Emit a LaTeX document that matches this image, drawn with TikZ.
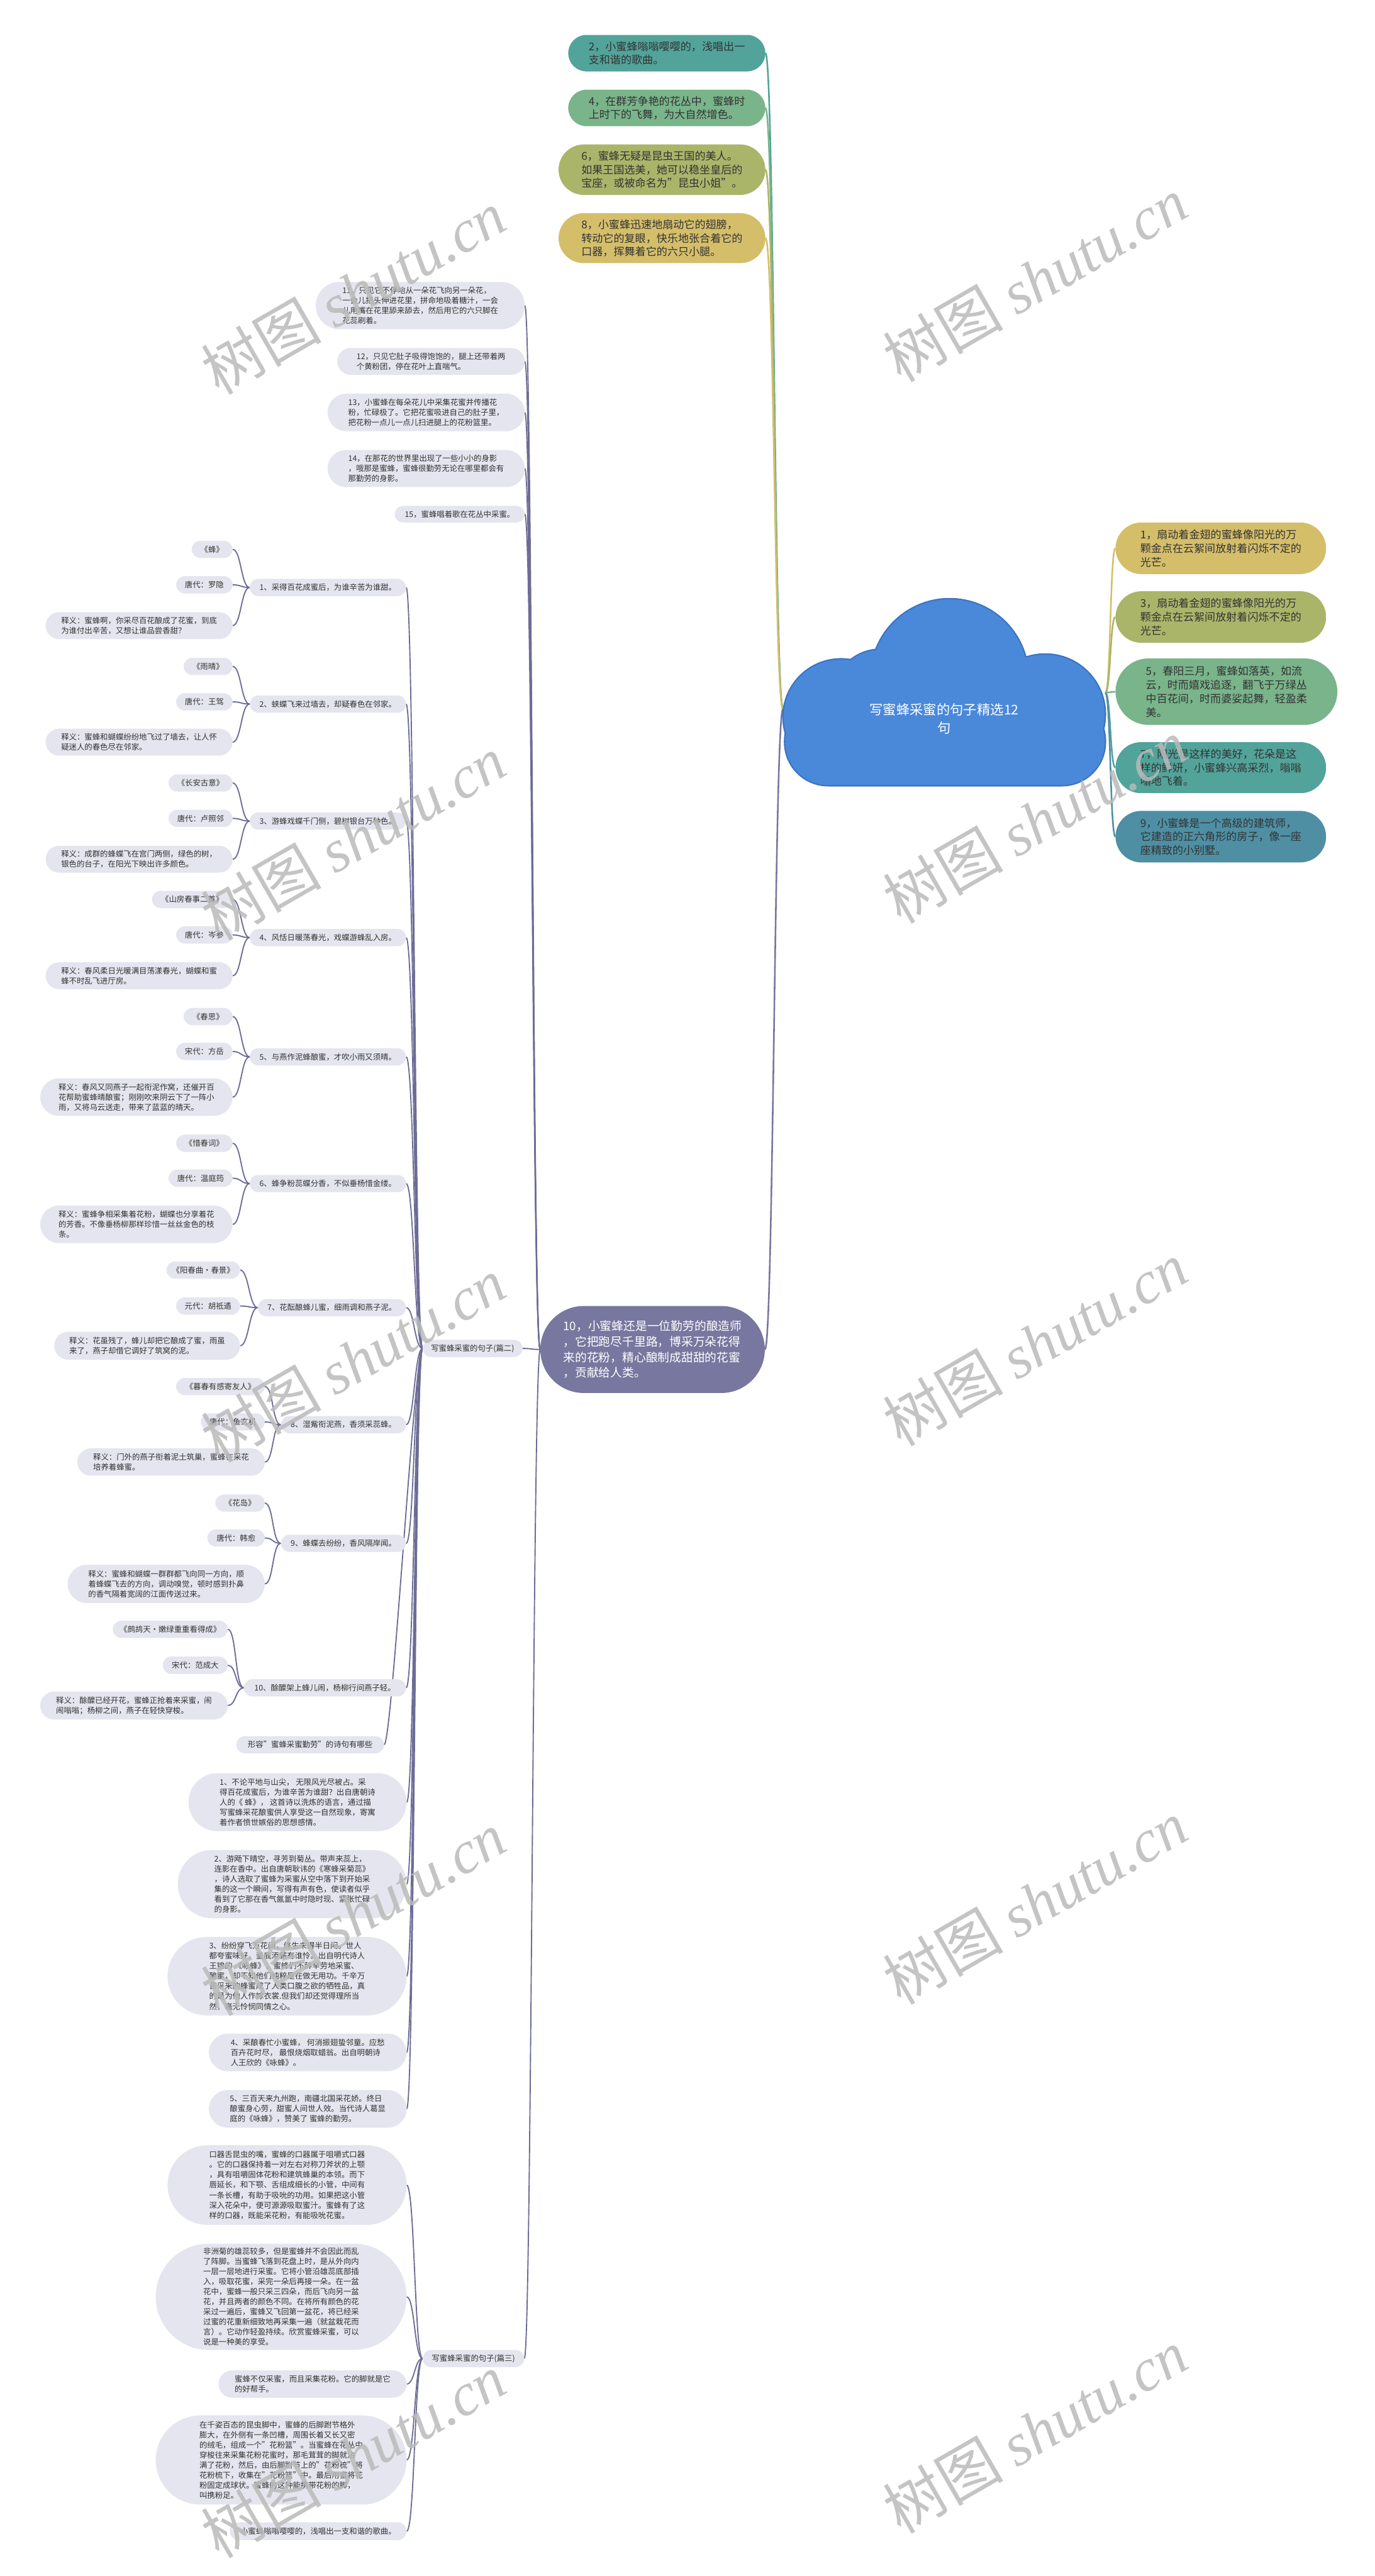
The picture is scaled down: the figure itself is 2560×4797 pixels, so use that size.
\documentclass[tikz,border=0pt]{standalone}
\usepackage{fontspec}
\setmainfont{Noto Sans CJK SC}
\newfontfamily\wmlatin{Liberation Serif}
\definecolor{cteal}{HTML}{52A39A}
\definecolor{cgreen}{HTML}{79B48A}
\definecolor{colive}{HTML}{AAB56A}
\definecolor{cyellow}{HTML}{D5BE6A}
\definecolor{cblue}{HTML}{4E8FA4}
\definecolor{cpurple}{HTML}{77779F}
\definecolor{ccloud}{HTML}{4A88DA}
\definecolor{ccloudline}{HTML}{3A72C2}
\definecolor{gbg}{HTML}{E4E5EE}
\definecolor{txt}{HTML}{333333}
\definecolor{lnk}{HTML}{6C6C96}
\pgfdeclarelayer{bgw}\pgfdeclarelayer{bg}\pgfdeclarelayer{fg}
\pgfsetlayers{bgw,bg,main,fg}
\tikzset{
 gnode/.style={fill=gbg, text=txt, font=\fontsize{14.5}{18.8}\selectfont, align=left, inner sep=0pt},
 cnode/.style={text=txt, font=\fontsize{20}{25.5}\selectfont, align=left, inner sep=0pt},
 pnode/.style={fill=cpurple, text=white, font=\fontsize{22}{29}\selectfont, align=left, inner sep=0pt},
 rootline/.style={line width=3pt},
 sline/.style={draw=lnk, line width=2.2pt},
 wmark/.style={text=black!27, text opacity=0.85, rotate=30, font=\fontsize{112}{112}\selectfont, inner sep=0pt}
}
\newcommand{\mmnode}[7]{%
 \pgfmathsetmacro{\mmw}{#5-#3}\pgfmathsetmacro{\mmh}{#6-#4}%
 \pgfmathsetmacro{\mmx}{(#3+#5)/2}\pgfmathsetmacro{\mmy}{(#4+#6)/2}%
 \pgfmathsetmacro{\mmr}{\mmh/2}%
 \node[#2, minimum width=\mmw pt, minimum height=\mmh pt, rounded corners=\mmr pt] (#1) at (\mmx,\mmy) {#7};}
\newcommand{\lkL}[4]{\draw[#1] (#2) .. controls +(-#4,0) and +(#4,0) .. (#3);}
\newcommand{\lkR}[4]{\draw[#1] (#2) .. controls +(#4,0) and +(-#4,0) .. (#3);}
\begin{document}
\begin{tikzpicture}[x=1pt,y=-1pt]
\begin{pgfonlayer}{bgw}
\fill[white] (0,0) rectangle (2560,4797);
\end{pgfonlayer}
\useasboundingbox (0,0) rectangle (2560,4797);

% ---------- cloud (root)
\path[draw=ccloudline, line width=5pt] (1566,1335) circle[radius=107] (1768,1262) circle[radius=146] (1946,1330) circle[radius=111] (1640,1300) circle[radius=90];
\draw[ccloudline, line width=5pt, rounded corners=80pt] (1462,1300) rectangle (2057,1462);
\fill[ccloud] (1566,1335) circle[radius=107] (1768,1262) circle[radius=146] (1946,1330) circle[radius=111] (1640,1300) circle[radius=90];
\fill[ccloud, rounded corners=80pt] (1462,1300) rectangle (2057,1462);
\node[text=white, font=\fontsize{25}{34}\selectfont, align=center, inner sep=0pt] (root) at (1758,1338) {写蜜蜂采蜜的句子精选12\\句};
\coordinate (rootL) at (1458,1320);
\coordinate (rootR) at (2058,1290);

% ---------- left coloured
\mmnode{n2}{cnode,fill=cteal}{1058}{65}{1425}{133}{2，小蜜蜂嗡嗡嘤嘤的，浅唱出一\\支和谐的歌曲。}
\mmnode{n4}{cnode,fill=cgreen}{1058}{167}{1425}{235}{4，在群芳争艳的花丛中，蜜蜂时\\上时下的飞舞，为大自然增色。}
\mmnode{n6}{cnode,fill=colive}{1040}{269}{1425}{363}{6，蜜蜂无疑是昆虫王国的美人。\\如果王国选美，她可以稳坐皇后的\\宝座，或被命名为"昆虫小姐"。}
\mmnode{n8}{cnode,fill=cyellow}{1040}{397}{1425}{490}{8，小蜜蜂迅速地扇动它的翅膀，\\转动它的复眼，快乐地张合着它的\\口器，挥舞着它的六只小腿。}
\mmnode{n10}{pnode}{1006}{2432}{1424}{2594}{10，小蜜蜂还是一位勤劳的酿造师\\，它把跑尽千里路，博采万朵花得\\来的花粉，精心酿制成甜甜的花蜜\\，贡献给人类。}

% ---------- right coloured
\mmnode{n1}{cnode,fill=cyellow}{2077}{973}{2469}{1069}{1，扇动着金翅的蜜蜂像阳光的万\\颗金点在云絮间放射着闪烁不定的\\光芒。}
\mmnode{n3}{cnode,fill=colive}{2077}{1101}{2469}{1197}{3，扇动着金翅的蜜蜂像阳光的万\\颗金点在云絮间放射着闪烁不定的\\光芒。}
\mmnode{n5}{cnode,fill=cgreen}{2077}{1226}{2490}{1350}{5，春阳三月，蜜蜂如落英，如流\\云，时而嬉戏追逐，翻飞于万绿丛\\中百花间，时而婆娑起舞，轻盈柔\\美。}
\mmnode{n7}{cnode,fill=cteal}{2077}{1382}{2469}{1477}{7，阳光是这样的美好，花朵是这\\样的鲜妍，小蜜蜂兴高采烈，嗡嗡\\嗡地飞着。}
\mmnode{n9}{cnode,fill=cblue}{2077}{1510}{2469}{1606}{9，小蜜蜂是一个高级的建筑师，\\它建造的正六角形的房子，像一座\\座精致的小别墅。}

% ---------- children of node 10
\mmnode{g11}{gnode}{588}{525}{977}{613}{11，只见它不停地从一朵花飞向另一朵花，\\一会儿把头伸进花里，拼命地吸着糖汁，一会\\儿用嘴在花里舔来舔去，然后用它的六只脚在\\花蕊刷着。}
\mmnode{g12}{gnode}{628}{648}{977}{698}{12，只见它肚子吸得饱饱的，腿上还带着两\\个黄粉团，停在花叶上直喘气。}
\mmnode{g13}{gnode}{610}{733}{977}{803}{13，小蜜蜂在每朵花儿中采集花蜜并传播花\\粉，忙碌极了。它把花蜜吸进自己的肚子里，\\把花粉一点儿一点儿扫进腿上的花粉篮里。}
\mmnode{g14}{gnode}{610}{838}{977}{907}{14，在那花的世界里出现了一些小小的身影\\，哦那是蜜蜂，蜜蜂很勤劳无论在哪里都会有\\那勤劳的身影。}
\mmnode{g15}{gnode}{735}{942}{977}{973}{15，蜜蜂唱着歌在花丛中采蜜。}
\mmnode{p2}{gnode}{787}{2495}{973}{2527}{写蜜蜂采蜜的句子(篇二)}
\mmnode{p3}{gnode}{787}{4376}{976}{4408}{写蜜蜂采蜜的句子(篇三)}

% ---------- 篇二 sections
\mmnode{s1}{gnode}{465}{1078}{756}{1110}{1、采得百花成蜜后，为谁辛苦为谁甜。}
\mmnode{t1}{gnode}{357}{1007}{433}{1039}{《蜂》}
\mmnode{a1}{gnode}{328}{1073}{433}{1105}{唐代：罗隐}
\mmnode{e1}{gnode}{85}{1140}{433}{1190}{释义：蜜蜂啊，你采尽百花酿成了花蜜，到底\\为谁付出辛苦，又想让谁品尝香甜？}

\mmnode{s2}{gnode}{465}{1295}{756}{1327}{2、蛱蝶飞来过墙去，却疑春色在邻家。}
\mmnode{t2}{gnode}{342}{1225}{433}{1257}{《雨晴》}
\mmnode{a2}{gnode}{328}{1291}{433}{1323}{唐代：王驾}
\mmnode{e2}{gnode}{85}{1357}{433}{1407}{释义：蜜蜂和蝴蝶纷纷地飞过了墙去，让人怀\\疑迷人的春色尽在邻家。}

\mmnode{s3}{gnode}{465}{1513}{756}{1545}{3、游蜂戏蝶千门侧，碧树银台万种色。}
\mmnode{t3}{gnode}{314}{1442}{433}{1474}{《长安古意》}
\mmnode{a3}{gnode}{314}{1508}{433}{1540}{唐代：卢照邻}
\mmnode{e3}{gnode}{85}{1575}{433}{1625}{释义：成群的蜂蝶飞在宫门两侧，绿色的树，\\银色的台子，在阳光下映出许多颜色。}

\mmnode{s4}{gnode}{465}{1730}{756}{1762}{4、风恬日暖荡春光，戏蝶游蜂乱入房。}
\mmnode{t4}{gnode}{283}{1659}{433}{1691}{《山房春事二首》}
\mmnode{a4}{gnode}{328}{1725}{433}{1757}{唐代：岑参}
\mmnode{e4}{gnode}{85}{1792}{433}{1842}{释义：春风柔日光暖满目荡漾春光，蝴蝶和蜜\\蜂不时乱飞进厅房。}

\mmnode{s5}{gnode}{465}{1952}{756}{1984}{5、与燕作泥蜂酿蜜，才吹小雨又须晴。}
\mmnode{t5}{gnode}{342}{1877}{433}{1909}{《春思》}
\mmnode{a5}{gnode}{328}{1942}{433}{1974}{宋代：方岳}
\mmnode{e5}{gnode}{75}{2008}{433}{2078}{释义：春风又同燕子一起衔泥作窝，还催开百\\花帮助蜜蜂晴酿蜜；刚刚吹来阴云下了一阵小\\雨，又将乌云送走，带来了蓝蓝的晴天。}

\mmnode{s6}{gnode}{465}{2188}{756}{2220}{6、蜂争粉蕊蝶分香，不似垂杨惜金缕。}
\mmnode{t6}{gnode}{328}{2113}{433}{2145}{《惜春词》}
\mmnode{a6}{gnode}{314}{2178}{433}{2210}{唐代：温庭筠}
\mmnode{e6}{gnode}{75}{2245}{433}{2315}{释义：蜜蜂争相采集着花粉，蝴蝶也分享着花\\的芳香。不像垂杨柳那样珍惜一丝丝金色的枝\\条。}

\mmnode{s7}{gnode}{480}{2419}{756}{2451}{7、花酝酿蜂儿蜜，细雨调和燕子泥。}
\mmnode{t7}{gnode}{310}{2349}{447}{2381}{《阳春曲·春景》}
\mmnode{a7}{gnode}{328}{2416}{447}{2448}{元代：胡祗遹}
\mmnode{e7}{gnode}{101}{2480}{447}{2532}{释义：花虽残了，蜂儿却把它酿成了蜜，雨虽\\来了，燕子却借它调好了筑窝的泥。}

\mmnode{s8}{gnode}{523}{2637}{756}{2669}{8、湿觜衔泥燕，香须采蕊蜂。}
\mmnode{t8}{gnode}{328}{2566}{493}{2598}{《暮春有感寄友人》}
\mmnode{a8}{gnode}{374}{2632}{493}{2664}{唐代：鱼玄机}
\mmnode{e8}{gnode}{144}{2697}{493}{2748}{释义：门外的燕子衔着泥土筑巢，蜜蜂在采花\\培养着蜂蜜。}

\mmnode{s9}{gnode}{523}{2858}{756}{2890}{9、蜂蝶去纷纷，香风隔岸闻。}
\mmnode{t9}{gnode}{401}{2783}{493}{2815}{《花岛》}
\mmnode{a9}{gnode}{386}{2848}{493}{2880}{唐代：韩愈}
\mmnode{e9}{gnode}{126}{2914}{493}{2985}{释义：蜜蜂和蝴蝶一群群都飞向同一方向，顺\\着蜂蝶飞去的方向，调动嗅觉，顿时感到扑鼻\\的香气隔着宽阔的江面传送过来。}

\mmnode{s10}{gnode}{454}{3127}{756}{3159}{10、酴醾架上蜂儿闹，杨柳行间燕子轻。}
\mmnode{t10}{gnode}{210}{3018}{424}{3050}{《鹧鸪天·嫩绿重重看得成》}
\mmnode{a10}{gnode}{303}{3085}{424}{3117}{宋代：范成大}
\mmnode{e10}{gnode}{75}{3150}{424}{3202}{释义：酴醾已经开花，蜜蜂正抢着来采蜜，闹\\闹嗡嗡；杨柳之间，燕子在轻快穿梭。}
\mmnode{xr}{gnode}{440}{3233}{715}{3265}{形容"蜜蜂采蜜勤劳"的诗句有哪些}

\mmnode{i1}{gnode}{351}{3302}{757}{3410}{1、不论平地与山尖， 无限风光尽被占。采\\得百花成蜜后，为谁辛苦为谁甜？出自唐朝诗\\人的《 蜂》， 这首诗以洗炼的语言，通过描\\写蜜蜂采花酿蜜供人享受这一自然现象，寄寓\\着作者愤世嫉俗的思想感情。}
\mmnode{i2}{gnode}{331}{3445}{757}{3572}{2、游飏下晴空，寻芳到菊丛。带声来蕊上，\\连影在香中。出自唐朝耿讳的《寒蜂采菊蕊》\\，诗人选取了蜜蜂为采蜜从空中落下到开始采\\集的这一个瞬间，写得有声有色，使读者似乎\\看到了它那在香气氤氲中时隐时现、紧张忙碌\\的身影。}
\mmnode{i3}{gnode}{312}{3607}{757}{3753}{3、纷纷穿飞万花间，终生未得半日闲。世人\\都夸蜜味好，釜底添薪有谁怜。出自明代诗人\\王锦的 《咏蜂》，蜜蜂们不辞辛劳地采蜜、\\酿蜜，却不知他们纯粹是在做无用功。千辛万\\苦采来的蜂蜜成了人类口腹之欲的牺牲品，真\\的是为他人作嫁衣裳.但我们却还觉得理所当\\然，毫无怜悯同情之心。}
\mmnode{i4}{gnode}{389}{3787}{757}{3857}{4、采酿春忙小蜜蜂， 何消振翅蛰邻童。应愁\\百卉花时尽， 最恨烧烟取蜡翁。出自明朝诗\\人王欣的《咏蜂》。}
\mmnode{i5}{gnode}{389}{3892}{757}{3962}{5、三百天来九州跑，南疆北国采花娇。终日\\酿蜜身心劳，甜蜜人间世人效。当代诗人葛显\\庭的《咏蜂》，赞美了 蜜蜂的勤劳。}

% ---------- 篇三
\mmnode{k1}{gnode}{312}{3995}{757}{4143}{口器舌昆虫的嘴，蜜蜂的口器属于咀嚼式口器\\。它的口器保持着一对左右对称刀斧状的上颚\\，具有咀嚼固体花粉和建筑蜂巢的本领。而下\\唇延长，和下颚、舌组成细长的小管，中间有\\一条长槽，有助于吸吮的功用。如果把这小管\\深入花朵中，便可源源吸取蜜汁。蜜蜂有了这\\样的口器，既能采花粉，有能吸吮花蜜。}
\mmnode{k2}{gnode}{290}{4178}{757}{4376}{非洲菊的雄蕊较多，但是蜜蜂并不会因此而乱\\了阵脚。当蜜蜂飞落到花盘上时，是从外向内\\一层一层地进行采蜜。它将小管沿雄蕊底部插\\入，吸取花蜜，采完一朵后再接一朵。在一盆\\花中，蜜蜂一般只采三四朵，而后飞向另一盆\\花，并且两者的颜色不同。在将所有颜色的花\\采过一遍后，蜜蜂又飞回第一盆花，将已经采\\过蜜的花重新细致地再采集一遍（就盆栽花而\\言）。它动作轻盈持续。欣赏蜜蜂采蜜，可以\\说是一种美的享受。}
\mmnode{k3}{gnode}{407}{4414}{757}{4465}{蜜蜂不仅采蜜，而且采集花粉。它的脚就是它\\的好帮手。}
\mmnode{k4}{gnode}{290}{4498}{757}{4664}{在千姿百态的昆虫脚中，蜜蜂的后脚跗节格外\\膨大，在外侧有一条凹槽，周围长着又长又密\\的绒毛，组成一个"花粉篮"。当蜜蜂在花丛中\\穿梭往来采集花粉花蜜时，那毛茸茸的脚就沾\\满了花粉，然后，由后脚跗节上的"花粉梳"将\\花粉梳下，收集在"花粉篮"中。最后用蜜将花\\粉固定成球状。蜜蜂的这种能携带花粉的脚，\\叫携粉足。}
\mmnode{k5}{gnode}{428}{4697}{757}{4730}{小蜜蜂嗡嗡嘤嘤的，浅唱出一支和谐的歌曲。}

% ---------- connectors
\begin{pgfonlayer}{bg}
\lkL{rootline,draw=cteal}{rootL}{n2.east}{16}
\lkL{rootline,draw=cgreen}{rootL}{n4.east}{16}
\lkL{rootline,draw=colive}{rootL}{n6.east}{16}
\lkL{rootline,draw=cyellow}{rootL}{n8.east}{16}
\lkL{rootline,draw=cpurple}{rootL}{n10.east}{16}
\lkR{rootline,draw=cyellow}{rootR}{n1.west}{10}
\lkR{rootline,draw=colive}{rootR}{n3.west}{10}
\lkR{rootline,draw=cgreen}{rootR}{n5.west}{10}
\lkR{rootline,draw=cteal}{rootR}{n7.west}{10}
\lkR{rootline,draw=cblue}{rootR}{n9.west}{10}
\foreach \c in {g11,g12,g13,g14,g15,p2,p3}{\lkL{sline}{n10.west}{\c.east}{14}}
\foreach \c in {s1,s2,s3,s4,s5,s6,s7,s8,s9,s10,xr,i1,i2,i3,i4,i5}{\lkL{sline}{p2.west}{\c.east}{15}}
\foreach \k in {1,...,10}{
  \lkL{sline}{s\k.west}{t\k.east}{16}
  \lkL{sline}{s\k.west}{a\k.east}{16}
  \lkL{sline}{s\k.west}{e\k.east}{16}
}
\foreach \c in {k1,k2,k3,k4,k5}{\lkL{sline}{p3.west}{\c.east}{15}}
\end{pgfonlayer}

% ---------- watermarks
\begin{pgfonlayer}{fg}
\foreach \wx/\wy [count=\wi] in {658/544,1927/520,658/1560,1927/1529,658/2532,1927/2502,658/3563,1927/3542,658/4573,1927/4527}{
  \node[wmark] (wm\wi) at (\wx,\wy) {树图 {\wmlatin\itshape shutu.cn}};
}
\end{pgfonlayer}
\end{tikzpicture}
\end{document}
